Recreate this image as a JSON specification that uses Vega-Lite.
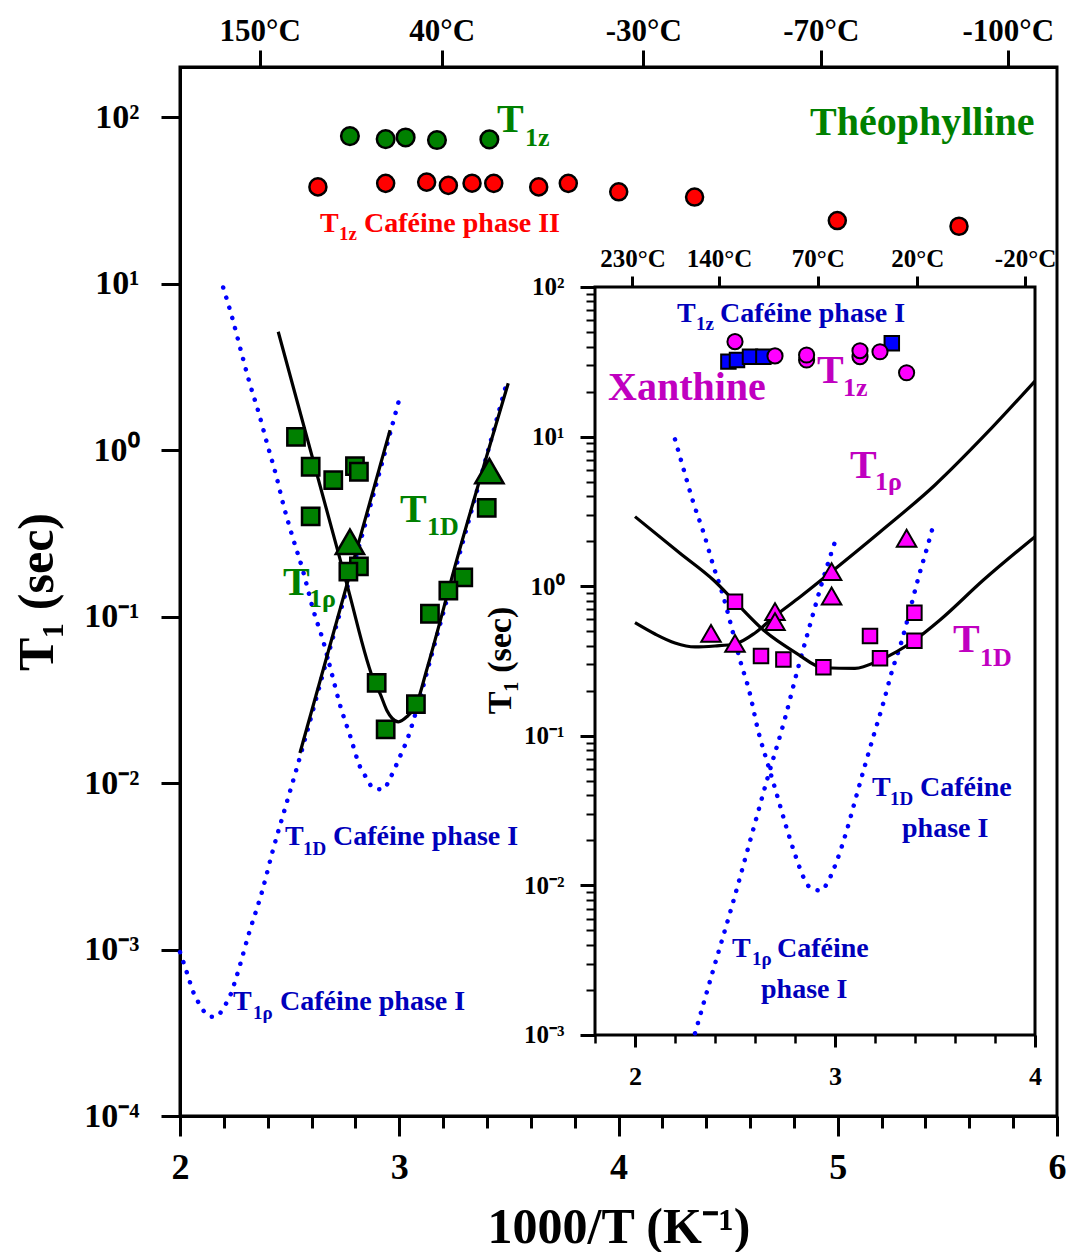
{
  "$schema": "https://vega.github.io/schema/vega-lite/v6.json",
  "width": 877,
  "height": 1049,
  "autosize": {"type": "none"},
  "padding": {"left": 180, "top": 67, "right": 11, "bottom": 136},
  "background": "white",
  "datasets": {
    "mpts": [
      {"x": 2.775, "y": 76.9, "s": "theoZ"}, {"x": 2.938, "y": 73.8, "s": "theoZ"}, {"x": 3.029, "y": 75.5, "s": "theoZ"}, {"x": 3.172, "y": 72.8, "s": "theoZ"}, {"x": 3.411, "y": 73.5, "s": "theoZ"},
      {"x": 2.629, "y": 38.1, "s": "caf2Z"}, {"x": 2.938, "y": 40.0, "s": "caf2Z"}, {"x": 3.125, "y": 40.7, "s": "caf2Z"}, {"x": 3.224, "y": 38.9, "s": "caf2Z"}, {"x": 3.332, "y": 40.1, "s": "caf2Z"}, {"x": 3.431, "y": 40.0, "s": "caf2Z"}, {"x": 3.636, "y": 38.1, "s": "caf2Z"}, {"x": 3.771, "y": 40.0, "s": "caf2Z"}, {"x": 4.001, "y": 35.6, "s": "caf2Z"}, {"x": 4.347, "y": 33.1, "s": "caf2Z"}, {"x": 4.998, "y": 23.9, "s": "caf2Z"}, {"x": 5.553, "y": 22.1, "s": "caf2Z"},
      {"x": 2.529, "y": 1.20, "s": "theoSq"}, {"x": 2.596, "y": 0.794, "s": "theoSq"}, {"x": 2.699, "y": 0.66, "s": "theoSq"}, {"x": 2.798, "y": 0.80, "s": "theoSq"}, {"x": 2.816, "y": 0.741, "s": "theoSq"}, {"x": 2.596, "y": 0.40, "s": "theoSq"}, {"x": 3.399, "y": 0.45, "s": "theoSq"}, {"x": 2.816, "y": 0.20, "s": "theoSq"}, {"x": 2.768, "y": 0.186, "s": "theoSq"}, {"x": 3.292, "y": 0.172, "s": "theoSq"}, {"x": 3.224, "y": 0.143, "s": "theoSq"}, {"x": 3.140, "y": 0.104, "s": "theoSq"}, {"x": 2.897, "y": 0.040, "s": "theoSq"}, {"x": 3.076, "y": 0.0298, "s": "theoSq"}, {"x": 2.938, "y": 0.021, "s": "theoSq"},
      {"x": 2.775, "y": 0.281, "s": "theoTri"}, {"x": 3.411, "y": 0.748, "s": "theoTri"}
    ],
    "mcur": [
      {"x": 2.000, "y": 0.000966, "c": "cafA"}, {"x": 2.032, "y": 0.000723, "c": "cafA"}, {"x": 2.064, "y": 0.000541, "c": "cafA"}, {"x": 2.091, "y": 0.000465, "c": "cafA"}, {"x": 2.119, "y": 0.000410, "c": "cafA"}, {"x": 2.141, "y": 0.000394, "c": "cafA"}, {"x": 2.164, "y": 0.000394, "c": "cafA"}, {"x": 2.201, "y": 0.000453, "c": "cafA"}, {"x": 2.228, "y": 0.000526, "c": "cafA"}, {"x": 2.260, "y": 0.000703, "c": "cafA"}, {"x": 2.315, "y": 0.001256, "c": "cafA"}, {"x": 2.374, "y": 0.002223, "c": "cafA"}, {"x": 2.424, "y": 0.003963, "c": "cafA"}, {"x": 2.479, "y": 0.00705, "c": "cafA"}, {"x": 2.534, "y": 0.01247, "c": "cafA"}, {"x": 2.70, "y": 0.0766, "c": "cafA"}, {"x": 2.85, "y": 0.380, "c": "cafA"}, {"x": 2.999, "y": 1.995, "c": "cafA"},
      {"x": 2.197, "y": 9.48, "c": "cafB"}, {"x": 2.239, "y": 6.18, "c": "cafB"}, {"x": 2.278, "y": 3.945, "c": "cafB"}, {"x": 2.316, "y": 2.570, "c": "cafB"}, {"x": 2.359, "y": 1.675, "c": "cafB"}, {"x": 2.398, "y": 1.086, "c": "cafB"}, {"x": 2.438, "y": 0.708, "c": "cafB"}, {"x": 2.474, "y": 0.456, "c": "cafB"}, {"x": 2.515, "y": 0.296, "c": "cafB"}, {"x": 2.560, "y": 0.190, "c": "cafB"}, {"x": 2.608, "y": 0.1094, "c": "cafB"}, {"x": 2.654, "y": 0.0706, "c": "cafB"}, {"x": 2.692, "y": 0.0456, "c": "cafB"}, {"x": 2.730, "y": 0.0294, "c": "cafB"}, {"x": 2.775, "y": 0.0194, "c": "cafB"}, {"x": 2.821, "y": 0.01253, "c": "cafB"}, {"x": 2.852, "y": 0.01067, "c": "cafB"}, {"x": 2.882, "y": 0.00929, "c": "cafB"}, {"x": 2.927, "y": 0.00916, "c": "cafB"}, {"x": 2.958, "y": 0.01067, "c": "cafB"}, {"x": 3.003, "y": 0.01439, "c": "cafB"}, {"x": 3.041, "y": 0.01897, "c": "cafB"}, {"x": 3.072, "y": 0.02559, "c": "cafB"}, {"x": 3.15, "y": 0.0603, "c": "cafB"}, {"x": 3.25, "y": 0.1807, "c": "cafB"}, {"x": 3.37, "y": 0.6745, "c": "cafB"}, {"x": 3.491, "y": 2.553, "c": "cafB"},
      {"x": 2.547, "y": 0.01514, "c": "theoL1"}, {"x": 2.958, "y": 1.318, "c": "theoL1"},
      {"x": 2.448, "y": 5.14, "c": "theoL2"}, {"x": 2.760, "y": 0.1581, "c": "theoL2"}, {"x": 2.889, "y": 0.0397, "c": "theoL2"}, {"x": 2.912, "y": 0.0346, "c": "theoL2"}, {"x": 2.943, "y": 0.0274, "c": "theoL2"}, {"x": 2.967, "y": 0.02455, "c": "theoL2"}, {"x": 2.996, "y": 0.02333, "c": "theoL2"}, {"x": 3.034, "y": 0.0250, "c": "theoL2"}, {"x": 3.080, "y": 0.03013, "c": "theoL2"}, {"x": 3.125, "y": 0.04775, "c": "theoL2"}, {"x": 3.262, "y": 0.2183, "c": "theoL2"}, {"x": 3.497, "y": 2.518, "c": "theoL2"}
    ],
    "mtxt": [
      {"x": 4.8734, "y": 77.97, "t": "Théophylline", "g": "theo", "k": "big"},
      {"x": 3.4458, "y": 81.27, "t": "T", "g": "theo", "k": "big"},
      {"x": 3.5736, "y": 66.95, "t": "1z", "g": "theo", "k": "sub"},
      {"x": 3.0034, "y": 0.3694, "t": "T", "g": "theo", "k": "big"},
      {"x": 3.1266, "y": 0.3087, "t": "1D", "g": "theo", "k": "sub"},
      {"x": 2.4698, "y": 0.1346, "t": "T", "g": "theo", "k": "big"},
      {"x": 2.5884, "y": 0.1141, "t": "1ρ", "g": "theo", "k": "sub"},
      {"x": 2.6385, "y": 20.39, "t": "T", "g": "caf2", "k": "med"},
      {"x": 2.7252, "y": 18.25, "t": "1z", "g": "caf2", "k": "msub"},
      {"x": 2.8392, "y": 20.39, "t": "Caféine phase II", "g": "caf2", "k": "med"},
      {"x": 2.4789, "y": 0.004242, "t": "T", "g": "caf1", "k": "med"},
      {"x": 2.5610, "y": 0.003694, "t": "1D", "g": "caf1", "k": "msub"},
      {"x": 2.6978, "y": 0.004242, "t": "Caféine phase I", "g": "caf1", "k": "med"},
      {"x": 2.2417, "y": 0.0004331, "t": "T", "g": "caf1", "k": "med"},
      {"x": 2.3330, "y": 0.0003825, "t": "1ρ", "g": "caf1", "k": "msub"},
      {"x": 2.4561, "y": 0.0004331, "t": "Caféine phase I", "g": "caf1", "k": "med"}
    ],
    "frame": [{"x": 1.8, "x2": 4, "y": 0.001, "y2": 100}],
    "ipts": [
      {"x": 2.467, "y": 31.7, "s": "cafZ"}, {"x": 2.51, "y": 32.5, "s": "cafZ"}, {"x": 2.575, "y": 34.2, "s": "cafZ"}, {"x": 2.642, "y": 34.2, "s": "cafZ"}, {"x": 3.284, "y": 42.0, "s": "cafZ"},
      {"x": 2.500, "y": 43.1, "s": "xanZ"}, {"x": 2.700, "y": 34.6, "s": "xanZ"}, {"x": 2.858, "y": 32.5, "s": "xanZ"}, {"x": 2.858, "y": 35.1, "s": "xanZ"}, {"x": 3.125, "y": 34.2, "s": "xanZ"}, {"x": 3.125, "y": 37.5, "s": "xanZ"}, {"x": 3.225, "y": 36.9, "s": "xanZ"}, {"x": 3.358, "y": 26.7, "s": "xanZ"},
      {"x": 2.500, "y": 0.787, "s": "xanSq"}, {"x": 2.630, "y": 0.341, "s": "xanSq"}, {"x": 2.742, "y": 0.324, "s": "xanSq"}, {"x": 2.942, "y": 0.287, "s": "xanSq"}, {"x": 3.175, "y": 0.465, "s": "xanSq"}, {"x": 3.225, "y": 0.330, "s": "xanSq"}, {"x": 3.397, "y": 0.432, "s": "xanSq"}, {"x": 3.397, "y": 0.665, "s": "xanSq"},
      {"x": 2.380, "y": 0.484, "s": "xanTri"}, {"x": 2.500, "y": 0.415, "s": "xanTri"}, {"x": 2.700, "y": 0.676, "s": "xanTri"}, {"x": 2.700, "y": 0.580, "s": "xanTri"}, {"x": 2.983, "y": 1.25, "s": "xanTri"}, {"x": 2.983, "y": 0.859, "s": "xanTri"}, {"x": 3.358, "y": 2.09, "s": "xanTri"}
    ],
    "icur": [
      {"x": 2.000, "y": 2.917, "c": "xanD"}, {"x": 2.225, "y": 1.660, "c": "xanD"}, {"x": 2.392, "y": 1.099, "c": "xanD"}, {"x": 2.500, "y": 0.787, "c": "xanD"}, {"x": 2.642, "y": 0.509, "c": "xanD"}, {"x": 2.808, "y": 0.356, "c": "xanD"}, {"x": 2.942, "y": 0.285, "c": "xanD"}, {"x": 3.100, "y": 0.2825, "c": "xanD"}, {"x": 3.225, "y": 0.321, "c": "xanD"}, {"x": 3.400, "y": 0.437, "c": "xanD"}, {"x": 3.525, "y": 0.594, "c": "xanD"}, {"x": 3.742, "y": 1.099, "c": "xanD"}, {"x": 4.000, "y": 2.143, "c": "xanD"},
      {"x": 2.000, "y": 0.570, "c": "xanR"}, {"x": 2.100, "y": 0.479, "c": "xanR"}, {"x": 2.200, "y": 0.417, "c": "xanR"}, {"x": 2.300, "y": 0.3924, "c": "xanR"}, {"x": 2.400, "y": 0.3984, "c": "xanR"}, {"x": 2.500, "y": 0.4108, "c": "xanR"}, {"x": 2.600, "y": 0.4866, "c": "xanR"}, {"x": 2.700, "y": 0.632, "c": "xanR"}, {"x": 2.825, "y": 0.8468, "c": "xanR"}, {"x": 2.975, "y": 1.225, "c": "xanR"}, {"x": 3.225, "y": 2.303, "c": "xanR"}, {"x": 3.500, "y": 4.749, "c": "xanR"}, {"x": 3.750, "y": 10.25, "c": "xanR"}, {"x": 4.000, "y": 23.5, "c": "xanR"},
      {"x": 2.200, "y": 9.59, "c": "cafDi"}, {"x": 2.245, "y": 5.92, "c": "cafDi"}, {"x": 2.292, "y": 3.614, "c": "cafDi"}, {"x": 2.345, "y": 2.234, "c": "cafDi"}, {"x": 2.392, "y": 1.365, "c": "cafDi"}, {"x": 2.442, "y": 0.851, "c": "cafDi"}, {"x": 2.484, "y": 0.524, "c": "cafDi"}, {"x": 2.525, "y": 0.3214, "c": "cafDi"}, {"x": 2.572, "y": 0.1972, "c": "cafDi"}, {"x": 2.617, "y": 0.1064, "c": "cafDi"}, {"x": 2.662, "y": 0.0661, "c": "cafDi"}, {"x": 2.709, "y": 0.0406, "c": "cafDi"}, {"x": 2.755, "y": 0.02495, "c": "cafDi"}, {"x": 2.804, "y": 0.01556, "c": "cafDi"}, {"x": 2.845, "y": 0.01114, "c": "cafDi"}, {"x": 2.879, "y": 0.00957, "c": "cafDi"}, {"x": 2.930, "y": 0.00923, "c": "cafDi"}, {"x": 2.967, "y": 0.01074, "c": "cafDi"}, {"x": 3.012, "y": 0.01493, "c": "cafDi"}, {"x": 3.062, "y": 0.0241, "c": "cafDi"}, {"x": 3.105, "y": 0.0388, "c": "cafDi"}, {"x": 3.150, "y": 0.0635, "c": "cafDi"}, {"x": 3.195, "y": 0.1023, "c": "cafDi"}, {"x": 3.242, "y": 0.1663, "c": "cafDi"}, {"x": 3.284, "y": 0.268, "c": "cafDi"}, {"x": 3.334, "y": 0.4325, "c": "cafDi"}, {"x": 3.375, "y": 0.6934, "c": "cafDi"}, {"x": 3.417, "y": 1.140, "c": "cafDi"}, {"x": 3.462, "y": 1.837, "c": "cafDi"}, {"x": 3.492, "y": 2.564, "c": "cafDi"},
      {"x": 2.300, "y": 0.001026, "c": "cafRi"}, {"x": 2.392, "y": 0.002748, "c": "cafRi"}, {"x": 2.484, "y": 0.00721, "c": "cafRi"}, {"x": 2.572, "y": 0.0191, "c": "cafRi"}, {"x": 2.659, "y": 0.0501, "c": "cafRi"}, {"x": 2.750, "y": 0.1309, "c": "cafRi"}, {"x": 2.817, "y": 0.2897, "c": "cafRi"}, {"x": 2.875, "y": 0.5508, "c": "cafRi"}, {"x": 2.934, "y": 1.045, "c": "cafRi"}, {"x": 3.000, "y": 1.982, "c": "cafRi"}
    ],
    "itxt": [
      {"x": 1.865, "y": 17.57, "t": "Xanthine", "g": "xan", "k": "big"},
      {"x": 2.91, "y": 22.82, "t": "T", "g": "xan", "k": "big"},
      {"x": 3.04, "y": 18.68, "t": "1z", "g": "xan", "k": "sub"},
      {"x": 3.075, "y": 5.288, "t": "T", "g": "xan", "k": "big"},
      {"x": 3.2, "y": 4.396, "t": "1ρ", "g": "xan", "k": "sub"},
      {"x": 3.59, "y": 0.3633, "t": "T", "g": "xan", "k": "big"},
      {"x": 3.725, "y": 0.2928, "t": "1D", "g": "xan", "k": "sub"},
      {"x": 2.21, "y": 58.35, "t": "T", "g": "caf1", "k": "med"},
      {"x": 2.305, "y": 51.6, "t": "1z", "g": "caf1", "k": "msub"},
      {"x": 2.425, "y": 58.35, "t": "Caféine phase I", "g": "caf1", "k": "med"},
      {"x": 3.185, "y": 0.03959, "t": "T", "g": "caf1", "k": "med"},
      {"x": 3.275, "y": 0.03447, "t": "1D", "g": "caf1", "k": "msub"},
      {"x": 3.425, "y": 0.03959, "t": "Caféine", "g": "caf1", "k": "med"},
      {"x": 3.335, "y": 0.02106, "t": "phase I", "g": "caf1", "k": "med"},
      {"x": 2.485, "y": 0.003322, "t": "T", "g": "caf1", "k": "med"},
      {"x": 2.585, "y": 0.002937, "t": "1ρ", "g": "caf1", "k": "msub"},
      {"x": 2.71, "y": 0.003322, "t": "Caféine", "g": "caf1", "k": "med"},
      {"x": 2.63, "y": 0.001768, "t": "phase I", "g": "caf1", "k": "med"}
    ]
  },
  "layer": [
    {
      "layer": [
        {
          "data": {"name": "mcur"},
          "transform": [{"filter": {"field": "c", "oneOf": ["cafA", "cafB"]}}],
          "mark": {"type": "line", "stroke": "#0000ff", "strokeWidth": 4.5, "strokeDash": [0.1, 10.5], "strokeCap": "round", "interpolate": "monotone"},
          "encoding": {
            "x": {"field": "x", "type": "quantitative", "scale": {"domain": [2, 6], "nice": false, "zero": false},
              "axis": {"orient": "bottom", "values": [2, 3, 4, 5, 6], "format": "d", "tickSize": 20, "tickWidth": 3, "domainWidth": 3, "labelFontSize": 36, "labelPadding": 14, "labelFlush": false,
                "title": "1000/T (K⁻¹)", "titleFontSize": 50, "titleX": 438.5, "titleY": 126, "titleBaseline": "alphabetic", "titleAlign": "center"}},
            "y": {"field": "y", "type": "quantitative", "scale": {"type": "log", "domain": [0.0001, 200], "nice": false},
              "axis": {"orient": "left", "values": [0.0001, 0.001, 0.01, 0.1, 1, 10, 100],
                "labelExpr": "datum.value > 50 ? '10²' : datum.value > 5 ? '10¹' : datum.value > 0.5 ? '10⁰' : datum.value > 0.05 ? '10⁻¹' : datum.value > 0.005 ? '10⁻²' : datum.value > 0.0005 ? '10⁻³' : '10⁻⁴'",
                "tickSize": 19, "tickWidth": 3, "domainWidth": 3, "labelFontSize": 34, "labelPadding": 22,
                "title": "T₁ (sec)", "titleFontSize": 50, "titleX": -143, "titleY": 524.5, "titleAngle": -90, "titleBaseline": "middle", "titleAlign": "center"}},
            "detail": {"field": "c"}
          }
        },
        {
          "data": {"name": "mcur"},
          "transform": [{"filter": {"field": "c", "oneOf": ["theoL1", "theoL2"]}}],
          "mark": {"type": "line", "stroke": "black", "strokeWidth": 3.2, "interpolate": "monotone"},
          "encoding": {
            "x": {"field": "x", "type": "quantitative", "scale": {"domain": [2, 6], "nice": false, "zero": false},
              "axis": {"orient": "bottom", "values": [2.2, 2.4, 2.6, 2.8, 3.2, 3.4, 3.6, 3.8, 4.2, 4.4, 4.6, 4.8, 5.2, 5.4, 5.6, 5.8], "labels": false, "tickSize": 12, "tickWidth": 3, "domain": false, "title": null}},
            "y": {"field": "y", "type": "quantitative", "scale": {"type": "log", "domain": [0.0001, 200], "nice": false}, "axis": null},
            "detail": {"field": "c"}
          }
        },
        {
          "data": {"name": "mpts"},
          "transform": [{"filter": "datum.s === 'caf2Z'"}],
          "mark": {"type": "point", "shape": "circle", "size": 290, "fill": "#ff0000", "stroke": "black", "strokeWidth": 2.5, "opacity": 1, "filled": true},
          "encoding": {
            "x": {"field": "x", "type": "quantitative", "scale": {"domain": [2, 6], "nice": false, "zero": false},
              "axis": {"orient": "top", "values": [2.3632, 3.1934, 4.1127, 4.9225, 5.7754],
                "labelExpr": "datum.value < 2.5 ? '150°C' : datum.value < 3.5 ? '40°C' : datum.value < 4.5 ? '-30°C' : datum.value < 5.3 ? '-70°C' : '-100°C'",
                "tickSize": 17, "tickWidth": 3, "domainWidth": 3, "labelFontSize": 31, "labelPadding": 3, "labelFlush": false, "title": null}},
            "y": {"field": "y", "type": "quantitative", "scale": {"type": "log", "domain": [0.0001, 200], "nice": false}, "axis": null}
          }
        },
        {
          "data": {"name": "mpts"},
          "transform": [{"filter": "datum.s === 'theoZ'"}],
          "mark": {"type": "point", "shape": "circle", "size": 310, "fill": "#008000", "stroke": "black", "strokeWidth": 2.5, "opacity": 1, "filled": true},
          "encoding": {
            "x": {"field": "x", "type": "quantitative", "scale": {"domain": [2, 6], "nice": false, "zero": false}, "axis": null},
            "y": {"field": "y", "type": "quantitative", "scale": {"type": "log", "domain": [0.0001, 200], "nice": false}, "axis": null}
          }
        },
        {
          "data": {"name": "mpts"},
          "transform": [{"filter": "datum.s === 'theoTri'"}],
          "mark": {"type": "point", "shape": "triangle-up", "size": 800, "fill": "#008000", "stroke": "black", "strokeWidth": 2.5, "opacity": 1, "filled": true},
          "encoding": {
            "x": {"field": "x", "type": "quantitative", "scale": {"domain": [2, 6], "nice": false, "zero": false}, "axis": null},
            "y": {"field": "y", "type": "quantitative", "scale": {"type": "log", "domain": [0.0001, 200], "nice": false}, "axis": null}
          }
        },
        {
          "data": {"name": "mpts"},
          "transform": [{"filter": "datum.s === 'theoSq'"}],
          "mark": {"type": "point", "shape": "square", "size": 300, "fill": "#008000", "stroke": "black", "strokeWidth": 2.5, "opacity": 1, "filled": true},
          "encoding": {
            "x": {"field": "x", "type": "quantitative", "scale": {"domain": [2, 6], "nice": false, "zero": false}, "axis": null},
            "y": {"field": "y", "type": "quantitative", "scale": {"type": "log", "domain": [0.0001, 200], "nice": false}, "axis": null}
          }
        },
        {
          "data": {"name": "mtxt"},
          "transform": [{"filter": "datum.k === 'big'"}],
          "mark": {"type": "text", "align": "left", "baseline": "alphabetic", "fontSize": 40},
          "encoding": {
            "x": {"field": "x", "type": "quantitative", "scale": {"domain": [2, 6], "nice": false, "zero": false}, "axis": null},
            "y": {"field": "y", "type": "quantitative", "scale": {"type": "log", "domain": [0.0001, 200], "nice": false}, "axis": null},
            "text": {"field": "t"},
            "color": {"field": "g", "type": "nominal", "scale": {"domain": ["theo", "caf2", "caf1", "xan"], "range": ["#008000", "#ff0000", "#0000bb", "#c000c0"]}, "legend": null}
          }
        },
        {
          "data": {"name": "mtxt"},
          "transform": [{"filter": "datum.k === 'sub'"}],
          "mark": {"type": "text", "align": "left", "baseline": "alphabetic", "fontSize": 26},
          "encoding": {
            "x": {"field": "x", "type": "quantitative", "scale": {"domain": [2, 6], "nice": false, "zero": false}, "axis": null},
            "y": {"field": "y", "type": "quantitative", "scale": {"type": "log", "domain": [0.0001, 200], "nice": false}, "axis": null},
            "text": {"field": "t"},
            "color": {"field": "g", "type": "nominal", "scale": {"domain": ["theo", "caf2", "caf1", "xan"], "range": ["#008000", "#ff0000", "#0000bb", "#c000c0"]}, "legend": null}
          }
        },
        {
          "data": {"name": "mtxt"},
          "transform": [{"filter": "datum.k === 'med'"}],
          "mark": {"type": "text", "align": "left", "baseline": "alphabetic", "fontSize": 28},
          "encoding": {
            "x": {"field": "x", "type": "quantitative", "scale": {"domain": [2, 6], "nice": false, "zero": false}, "axis": null},
            "y": {"field": "y", "type": "quantitative", "scale": {"type": "log", "domain": [0.0001, 200], "nice": false}, "axis": null},
            "text": {"field": "t"},
            "color": {"field": "g", "type": "nominal", "scale": {"domain": ["theo", "caf2", "caf1", "xan"], "range": ["#008000", "#ff0000", "#0000bb", "#c000c0"]}, "legend": null}
          }
        },
        {
          "data": {"name": "mtxt"},
          "transform": [{"filter": "datum.k === 'msub'"}],
          "mark": {"type": "text", "align": "left", "baseline": "alphabetic", "fontSize": 19},
          "encoding": {
            "x": {"field": "x", "type": "quantitative", "scale": {"domain": [2, 6], "nice": false, "zero": false}, "axis": null},
            "y": {"field": "y", "type": "quantitative", "scale": {"type": "log", "domain": [0.0001, 200], "nice": false}, "axis": null},
            "text": {"field": "t"},
            "color": {"field": "g", "type": "nominal", "scale": {"domain": ["theo", "caf2", "caf1", "xan"], "range": ["#008000", "#ff0000", "#0000bb", "#c000c0"]}, "legend": null}
          }
        }
      ],
      "resolve": {"axis": {"x": "independent", "y": "independent"}}
    },
    {
      "layer": [
        {
          "data": {"name": "frame"},
          "mark": {"type": "rect", "fill": "white", "stroke": "black", "strokeWidth": 3},
          "encoding": {
            "x": {"field": "x", "type": "quantitative", "scale": {"domain": [-0.275, 4.11], "nice": false, "zero": false},
              "axis": {"orient": "bottom", "offset": -81, "values": [2, 3, 4], "format": "d", "tickSize": 12, "tickWidth": 3, "domain": false, "labelFontSize": 26, "labelPadding": 16, "labelFlush": false, "title": null}},
            "x2": {"field": "x2"},
            "y": {"field": "y", "type": "quantitative", "scale": {"type": "log", "domain": [0.0002873, 2955], "nice": false},
              "axis": {"orient": "left", "offset": -415, "values": [0.001, 0.01, 0.1, 1, 10, 100],
                "labelExpr": "datum.value > 50 ? '10²' : datum.value > 5 ? '10¹' : datum.value > 0.5 ? '10⁰' : datum.value > 0.05 ? '10⁻¹' : datum.value > 0.005 ? '10⁻²' : '10⁻³'",
                "tickSize": 15, "tickWidth": 3, "domain": false, "labelFontSize": 25, "labelPadding": 16,
                "title": "T₁ (sec)", "titleFontSize": 34, "titleX": -95, "titleY": 593, "titleAngle": -90, "titleBaseline": "middle", "titleAlign": "center"}},
            "y2": {"field": "y2"}
          }
        },
        {
          "data": {"name": "icur"},
          "transform": [{"filter": {"field": "c", "oneOf": ["cafDi", "cafRi"]}}],
          "mark": {"type": "line", "stroke": "#0000ff", "strokeWidth": 4.5, "strokeDash": [0.1, 10.5], "strokeCap": "round", "interpolate": "monotone"},
          "encoding": {
            "x": {"field": "x", "type": "quantitative", "scale": {"domain": [-0.275, 4.11], "nice": false, "zero": false},
              "axis": {"orient": "bottom", "offset": -81, "values": [1.8, 2.2, 2.4, 2.6, 2.8, 3.2, 3.4, 3.6, 3.8], "labels": false, "tickSize": 8, "tickWidth": 2.5, "domain": false, "title": null}},
            "y": {"field": "y", "type": "quantitative", "scale": {"type": "log", "domain": [0.0002873, 2955], "nice": false},
              "axis": {"orient": "left", "offset": -415, "values": [0.002, 0.003, 0.004, 0.005, 0.006, 0.007, 0.008, 0.009, 0.02, 0.03, 0.04, 0.05, 0.06, 0.07, 0.08, 0.09, 0.2, 0.3, 0.4, 0.5, 0.6, 0.7, 0.8, 0.9, 2, 3, 4, 5, 6, 7, 8, 9, 20, 30, 40, 50, 60, 70, 80, 90], "labels": false, "tickSize": 9, "tickWidth": 2, "domain": false, "title": null}},
            "detail": {"field": "c"}
          }
        },
        {
          "data": {"name": "icur"},
          "transform": [{"filter": {"field": "c", "oneOf": ["xanD", "xanR"]}}],
          "mark": {"type": "line", "stroke": "black", "strokeWidth": 3.2, "interpolate": "monotone"},
          "encoding": {
            "x": {"field": "x", "type": "quantitative", "scale": {"domain": [-0.275, 4.11], "nice": false, "zero": false},
              "axis": {"orient": "top", "offset": -220, "values": [1.9875, 2.4204, 2.9142, 3.4112, 3.9502],
                "labelExpr": "datum.value < 2.2 ? '230°C' : datum.value < 2.7 ? '140°C' : datum.value < 3.2 ? '70°C' : datum.value < 3.7 ? '20°C' : '-20°C'",
                "tickSize": 11, "tickWidth": 3, "domain": false, "labelFontSize": 25, "labelPadding": 5, "labelFlush": false, "title": null}},
            "y": {"field": "y", "type": "quantitative", "scale": {"type": "log", "domain": [0.0002873, 2955], "nice": false}, "axis": null},
            "detail": {"field": "c"}
          }
        },
        {
          "data": {"name": "ipts"},
          "transform": [{"filter": "datum.s === 'cafZ'"}],
          "mark": {"type": "point", "shape": "square", "size": 210, "fill": "#0000ff", "stroke": "black", "strokeWidth": 2, "opacity": 1, "filled": true},
          "encoding": {
            "x": {"field": "x", "type": "quantitative", "scale": {"domain": [-0.275, 4.11], "nice": false, "zero": false}, "axis": null},
            "y": {"field": "y", "type": "quantitative", "scale": {"type": "log", "domain": [0.0002873, 2955], "nice": false}, "axis": null}
          }
        },
        {
          "data": {"name": "ipts"},
          "transform": [{"filter": "datum.s === 'xanZ'"}],
          "mark": {"type": "point", "shape": "circle", "size": 230, "fill": "#ff00ff", "stroke": "black", "strokeWidth": 2, "opacity": 1, "filled": true},
          "encoding": {
            "x": {"field": "x", "type": "quantitative", "scale": {"domain": [-0.275, 4.11], "nice": false, "zero": false}, "axis": null},
            "y": {"field": "y", "type": "quantitative", "scale": {"type": "log", "domain": [0.0002873, 2955], "nice": false}, "axis": null}
          }
        },
        {
          "data": {"name": "ipts"},
          "transform": [{"filter": "datum.s === 'xanSq'"}],
          "mark": {"type": "point", "shape": "square", "size": 210, "fill": "#ff00ff", "stroke": "black", "strokeWidth": 2, "opacity": 1, "filled": true},
          "encoding": {
            "x": {"field": "x", "type": "quantitative", "scale": {"domain": [-0.275, 4.11], "nice": false, "zero": false}, "axis": null},
            "y": {"field": "y", "type": "quantitative", "scale": {"type": "log", "domain": [0.0002873, 2955], "nice": false}, "axis": null}
          }
        },
        {
          "data": {"name": "ipts"},
          "transform": [{"filter": "datum.s === 'xanTri'"}],
          "mark": {"type": "point", "shape": "triangle-up", "size": 380, "fill": "#ff00ff", "stroke": "black", "strokeWidth": 2, "opacity": 1, "filled": true},
          "encoding": {
            "x": {"field": "x", "type": "quantitative", "scale": {"domain": [-0.275, 4.11], "nice": false, "zero": false}, "axis": null},
            "y": {"field": "y", "type": "quantitative", "scale": {"type": "log", "domain": [0.0002873, 2955], "nice": false}, "axis": null}
          }
        },
        {
          "data": {"name": "itxt"},
          "transform": [{"filter": "datum.k === 'big'"}],
          "mark": {"type": "text", "align": "left", "baseline": "alphabetic", "fontSize": 40},
          "encoding": {
            "x": {"field": "x", "type": "quantitative", "scale": {"domain": [-0.275, 4.11], "nice": false, "zero": false}, "axis": null},
            "y": {"field": "y", "type": "quantitative", "scale": {"type": "log", "domain": [0.0002873, 2955], "nice": false}, "axis": null},
            "text": {"field": "t"},
            "color": {"field": "g", "type": "nominal", "scale": {"domain": ["theo", "caf2", "caf1", "xan"], "range": ["#008000", "#ff0000", "#0000bb", "#c000c0"]}, "legend": null}
          }
        },
        {
          "data": {"name": "itxt"},
          "transform": [{"filter": "datum.k === 'sub'"}],
          "mark": {"type": "text", "align": "left", "baseline": "alphabetic", "fontSize": 26},
          "encoding": {
            "x": {"field": "x", "type": "quantitative", "scale": {"domain": [-0.275, 4.11], "nice": false, "zero": false}, "axis": null},
            "y": {"field": "y", "type": "quantitative", "scale": {"type": "log", "domain": [0.0002873, 2955], "nice": false}, "axis": null},
            "text": {"field": "t"},
            "color": {"field": "g", "type": "nominal", "scale": {"domain": ["theo", "caf2", "caf1", "xan"], "range": ["#008000", "#ff0000", "#0000bb", "#c000c0"]}, "legend": null}
          }
        },
        {
          "data": {"name": "itxt"},
          "transform": [{"filter": "datum.k === 'med'"}],
          "mark": {"type": "text", "align": "left", "baseline": "alphabetic", "fontSize": 28},
          "encoding": {
            "x": {"field": "x", "type": "quantitative", "scale": {"domain": [-0.275, 4.11], "nice": false, "zero": false}, "axis": null},
            "y": {"field": "y", "type": "quantitative", "scale": {"type": "log", "domain": [0.0002873, 2955], "nice": false}, "axis": null},
            "text": {"field": "t"},
            "color": {"field": "g", "type": "nominal", "scale": {"domain": ["theo", "caf2", "caf1", "xan"], "range": ["#008000", "#ff0000", "#0000bb", "#c000c0"]}, "legend": null}
          }
        },
        {
          "data": {"name": "itxt"},
          "transform": [{"filter": "datum.k === 'msub'"}],
          "mark": {"type": "text", "align": "left", "baseline": "alphabetic", "fontSize": 19},
          "encoding": {
            "x": {"field": "x", "type": "quantitative", "scale": {"domain": [-0.275, 4.11], "nice": false, "zero": false}, "axis": null},
            "y": {"field": "y", "type": "quantitative", "scale": {"type": "log", "domain": [0.0002873, 2955], "nice": false}, "axis": null},
            "text": {"field": "t"},
            "color": {"field": "g", "type": "nominal", "scale": {"domain": ["theo", "caf2", "caf1", "xan"], "range": ["#008000", "#ff0000", "#0000bb", "#c000c0"]}, "legend": null}
          }
        }
      ],
      "resolve": {"axis": {"x": "independent", "y": "independent"}}
    }
  ],
  "resolve": {"scale": {"x": "independent", "y": "independent"}},
  "config": {
    "view": {"stroke": "black", "strokeWidth": 3},
    "axis": {"grid": false, "labelFont": "Liberation Serif", "labelFontWeight": "bold", "titleFont": "Liberation Serif", "titleFontWeight": "bold", "labelColor": "black", "tickColor": "black", "domainColor": "black", "titleColor": "black", "labelOverlap": false, "labelFlush": false},
    "text": {"font": "Liberation Serif", "fontWeight": "bold"}
  }
}
